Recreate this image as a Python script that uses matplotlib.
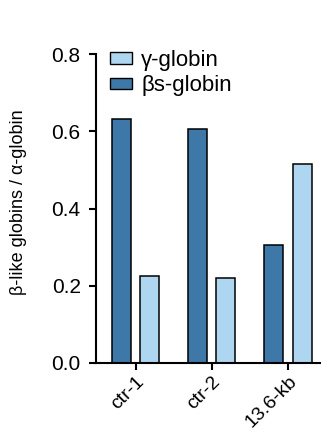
import numpy as np
import matplotlib.pyplot as plt
from matplotlib.patches import Patch

plt.rcParams['font.family'] = ['Liberation Sans', 'DejaVu Sans']

# globin expression ratios per clone
samples = ["ctr-1", "ctr-2", "13.6-kb"]
beta_s = [0.632, 0.606, 0.306]
gamma = [0.225, 0.219, 0.515]

dark_blue = "#3d78a9"
light_blue = "#aed6f1"

fig = plt.figure(figsize=(3.21, 4.33), dpi=100)
ax = fig.add_axes([96 / 321, 70 / 433, 224 / 321, 309 / 433])

x = np.arange(len(samples))
offset = 0.185
width = 0.25
ax.bar(x - offset, beta_s, width, color=dark_blue, edgecolor="black", linewidth=1.1)
ax.bar(x + offset, gamma, width, color=light_blue, edgecolor="black", linewidth=1.1)

ax.set_xlim(-0.52, 2.42)
ax.set_ylim(0, 0.8)
ax.set_yticks([0, 0.2, 0.4, 0.6, 0.8])
ax.set_yticklabels(["0.0", "0.2", "0.4", "0.6", "0.8"])
ax.set_xticks(x)
ax.set_xticklabels(samples, rotation=45, ha="right", rotation_mode="anchor")

for side in ["top", "right"]:
    ax.spines[side].set_visible(False)
for side in ["left", "bottom"]:
    ax.spines[side].set_linewidth(1.5)
ax.tick_params(axis="both", width=1.5, length=5)
ax.tick_params(axis="y", pad=6, labelsize=15)
ax.tick_params(axis="x", pad=2, labelsize=14)

ax.set_ylabel("β-like globins / α-globin", fontsize=13)
ax.yaxis.set_label_coords(-0.31, 0.52)

handles = [Patch(facecolor=light_blue, edgecolor="black", label="γ-globin"),
           Patch(facecolor=dark_blue, edgecolor="black", label="βs-globin")]
ax.legend(handles=handles, loc="upper left", bbox_to_anchor=(0.0625, 1.013),
          frameon=False, fontsize=16, handlelength=1.0, handleheight=0.45,
          handletextpad=0.4, labelspacing=0.2, borderaxespad=0, borderpad=0)

fig.savefig("out.png", dpi=100)
